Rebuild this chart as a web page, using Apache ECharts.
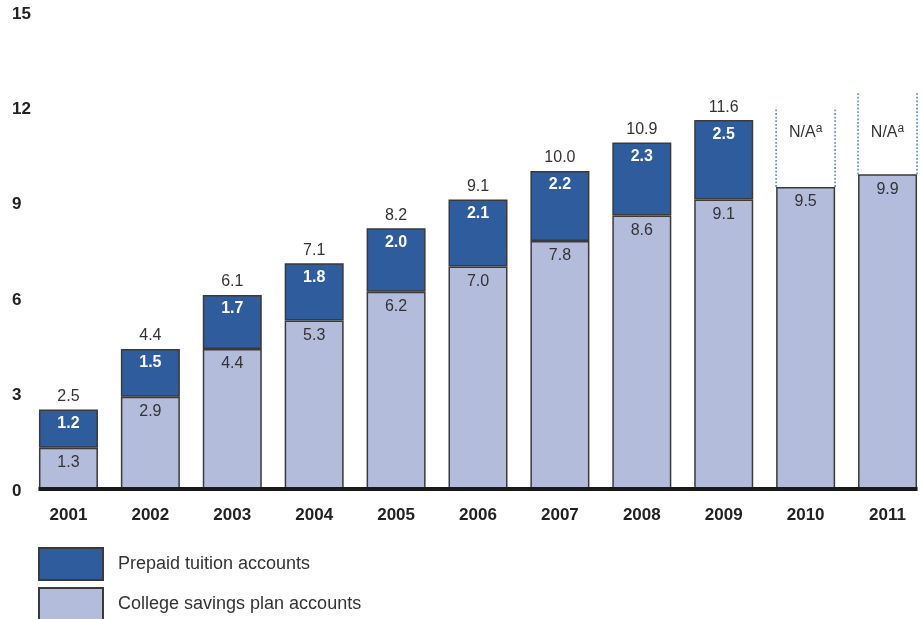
<!DOCTYPE html>
<html>
<head>
<meta charset="utf-8">
<script src="https://cdn.jsdelivr.net/npm/echarts@6/dist/echarts.min.js"></script>
<style>
  html, body { margin: 0; padding: 0; background: #fff; }
  #chart { width: 922px; height: 619px; }
</style>
</head>
<body>
<div id="chart"></div>
<script>
// Accounts by year (millions)
const years = ['2001', '2002', '2003', '2004', '2005', '2006', '2007', '2008', '2009', '2010', '2011'];
const savingsPlan = [1.3, 2.9, 4.4, 5.3, 6.2, 7.0, 7.8, 8.6, 9.1, 9.5, 9.9];
const prepaidTuition = [1.2, 1.5, 1.7, 1.8, 2.0, 2.1, 2.2, 2.3, 2.5, null, null];
const totals = [2.5, 4.4, 6.1, 7.1, 8.2, 9.1, 10.0, 10.9, 11.6, null, null];
// Years where prepaid data is not available: [year index, bar top, top of dotted outline]
const notAvailable = [[9, 9.5, 12.0], [10, 9.9, 12.45]];
const yTicks = [0, 3, 6, 9, 12, 15];

const FONT = 'Liberation Sans, Arial, sans-serif';
const BAR_W = 59;
const DARK_BLUE = '#2f5c9d';
const LIGHT_BLUE = '#b4bcdc';
const EDGE = '#3a3a3a';

const SERIES_PREPAID = 'Prepaid tuition accounts';
const SERIES_SAVINGS = 'College savings plan accounts';

const legendBase = {
  orient: 'vertical',
  left: 38,
  padding: 0,
  itemWidth: 64,
  itemHeight: 32,
  icon: 'rect',
  textStyle: { fontSize: 18, color: '#333', fontFamily: FONT, padding: [0, 0, 0, 10] }
};

const chart = echarts.init(document.getElementById('chart'));

chart.setOption({
  animation: false,
  textStyle: { fontFamily: FONT },
  grid: {
    left: 27.5, width: 901, top: 12, bottom: 130,
    containLabel: false, outerBoundsMode: 'none'
  },
  legend: [
    Object.assign({}, legendBase, { top: 547, data: [SERIES_PREPAID] }),
    Object.assign({}, legendBase, { top: 587, data: [SERIES_SAVINGS] })
  ],
  xAxis: {
    type: 'category',
    data: years,
    axisLine: { show: false },
    axisTick: { show: false },
    axisLabel: { fontSize: 17, fontWeight: 'bold', color: '#222', margin: 18, fontFamily: FONT }
  },
  yAxis: {
    type: 'value',
    min: 0,
    max: yTicks[yTicks.length - 1],
    interval: 3,
    splitLine: { show: false },
    axisLine: { show: false },
    axisTick: { show: false },
    axisLabel: {
      color: '#222', align: 'left', margin: 15.5,
      formatter: '{v|{value}}',
      rich: { v: { fontSize: 17, fontWeight: 'bold', color: '#222', fontFamily: FONT, padding: [4, 0, 0, 0] } }
    }
  },
  series: [
    {
      name: SERIES_SAVINGS,
      type: 'bar',
      stack: 'accounts',
      barWidth: BAR_W,
      data: savingsPlan,
      itemStyle: { color: LIGHT_BLUE, borderColor: EDGE, borderWidth: 1.5 },
      label: {
        show: true, position: 'insideTop', distance: 7,
        fontSize: 16, color: '#333', fontFamily: FONT,
        formatter: p => p.value.toFixed(1)
      }
    },
    {
      name: SERIES_PREPAID,
      type: 'bar',
      stack: 'accounts',
      barWidth: BAR_W,
      data: prepaidTuition,
      itemStyle: { color: DARK_BLUE, borderColor: EDGE, borderWidth: 1.5 },
      label: {
        show: true, position: 'insideTop', distance: 6,
        fontSize: 16, fontWeight: 'bold', color: '#fff', fontFamily: FONT,
        formatter: p => p.value.toFixed(1)
      }
    },
    {
      // Total labels above each stack
      name: 'Total',
      type: 'custom',
      data: totals.map((t, i) => [i, t]),
      z: 5,
      renderItem: (params, api) => {
        const v = api.value(1);
        if (v == null || isNaN(v)) return null;
        const pt = api.coord([api.value(0), v]);
        return {
          type: 'text',
          style: {
            text: v.toFixed(1), x: pt[0], y: pt[1] - 5,
            align: 'center', verticalAlign: 'bottom',
            fontSize: 16, fill: '#333', fontFamily: FONT
          }
        };
      }
    },
    {
      // Dotted outline where prepaid figures are not available
      name: 'N/A',
      type: 'custom',
      data: notAvailable,
      z: 5,
      renderItem: (params, api) => {
        const i = api.value(0);
        const base = api.coord([i, api.value(1)]);
        const top = api.coord([i, api.value(2)]);
        const half = BAR_W / 2;
        const labelY = api.coord([i, 11.2])[1];
        const dotted = { stroke: '#6f95d0', lineWidth: 1.8, lineDash: [1.8, 1.8] };
        return {
          type: 'group',
          children: [
            { type: 'line', shape: { x1: base[0] - half, y1: base[1], x2: top[0] - half, y2: top[1] }, style: dotted },
            { type: 'line', shape: { x1: base[0] + half, y1: base[1], x2: top[0] + half, y2: top[1] }, style: dotted },
            {
              type: 'text',
              style: {
                text: '{m|N/A}{s|a}', x: base[0], y: labelY,
                align: 'center', verticalAlign: 'middle',
                fontFamily: FONT,
                rich: {
                  m: { fontSize: 16, fill: '#333', fontFamily: FONT, lineHeight: 20 },
                  s: { fontSize: 12, fill: '#333', fontFamily: FONT, lineHeight: 20, padding: [0, 0, 9, 0] }
                }
              }
            }
          ]
        };
      }
    },
    {
      // Heavy baseline spanning the outer bars
      name: 'Baseline',
      type: 'custom',
      data: [[0, years.length - 1]],
      z: 6,
      renderItem: (params, api) => {
        const a = api.coord([api.value(0), 0]);
        const b = api.coord([api.value(1), 0]);
        return {
          type: 'line',
          shape: { x1: a[0] - BAR_W / 2 - 0.5, y1: a[1], x2: b[0] + BAR_W / 2 + 0.5, y2: b[1] },
          style: { stroke: '#1a1a1a', lineWidth: 4 }
        };
      }
    }
  ]
});
</script>
</body>
</html>
